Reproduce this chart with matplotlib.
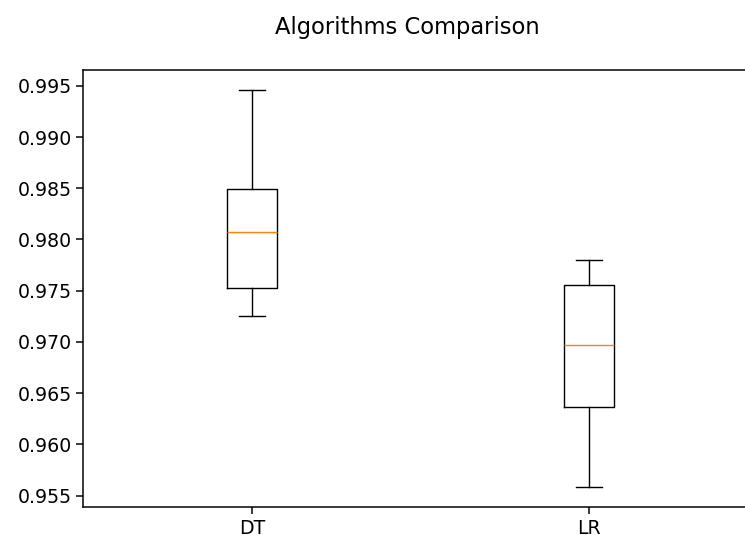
import matplotlib
matplotlib.use("Agg")
import matplotlib.pyplot as plt

# box statistics
names = ['DT', 'LR']
whisker_low = [0.9725, 0.9558]
q1 = [0.9753, 0.9636]
medians = [0.9807, 0.9697]
q3 = [0.9849, 0.9756]
whisker_high = [0.9946, 0.9780]

stats = []
for i, name in enumerate(names):
    stats.append({
        'label': name,
        'whislo': whisker_low[i],
        'q1': q1[i],
        'med': medians[i],
        'q3': q3[i],
        'whishi': whisker_high[i],
        'fliers': [],
    })

scale = 1.36
plt.rcParams['font.size'] = 10 * scale
plt.rcParams['axes.linewidth'] = 0.8 * scale
plt.rcParams['lines.linewidth'] = 1.1 * scale
plt.rcParams['xtick.major.size'] = 3.5 * scale
plt.rcParams['ytick.major.size'] = 3.5 * scale
plt.rcParams['xtick.major.width'] = 0.8 * scale
plt.rcParams['ytick.major.width'] = 0.8 * scale

# the reference is a screenshot cropped on the right, so the axes run past the edge
fig = plt.figure(figsize=(7.45, 5.35), dpi=100)
fig.suptitle("Algorithms Comparison", fontsize=12 * scale, x=0.547, y=0.97)
ax = fig.add_axes([0.112, 0.052, 0.905, 0.817])
ax.bxp(stats, showfliers=False)
ax.set_yticks([0.955, 0.960, 0.965, 0.970, 0.975, 0.980, 0.985, 0.990, 0.995])
ax.set_yticklabels(['0.955', '0.960', '0.965', '0.970', '0.975', '0.980', '0.985', '0.990', '0.995'])
ax.spines['right'].set_visible(False)

plt.savefig("out.png", dpi=100)
